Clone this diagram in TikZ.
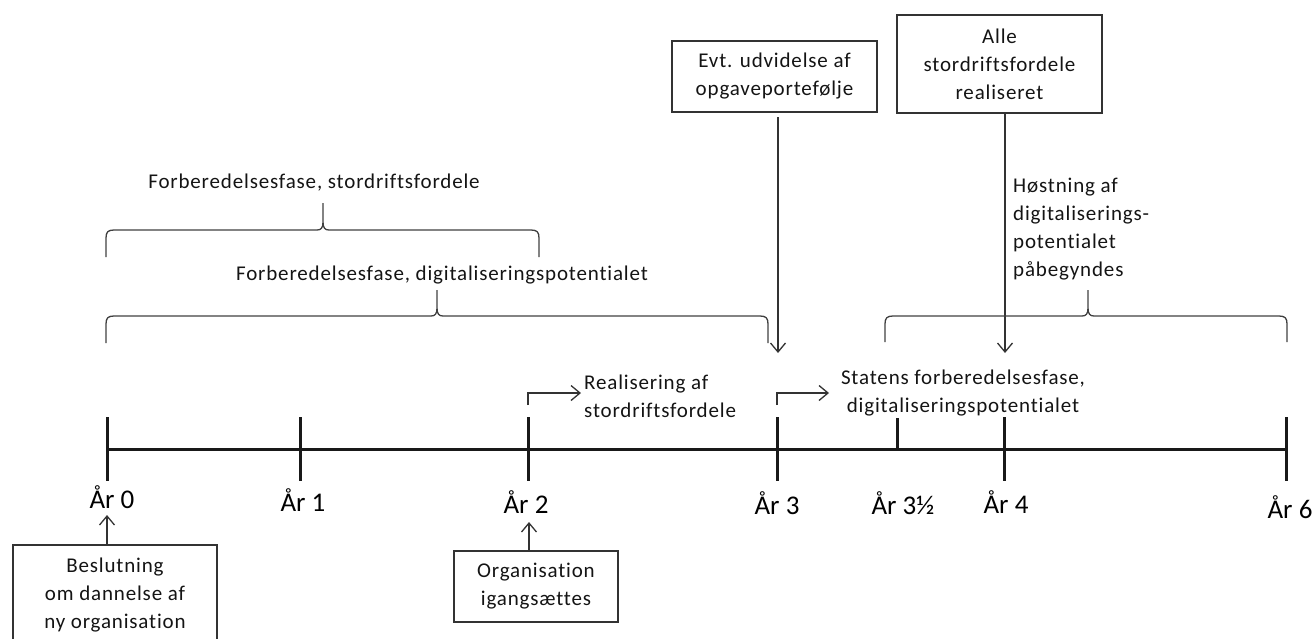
\documentclass[tikz,border=0pt]{standalone}
\usepackage{fontspec}
\setmainfont{Carlito}[LetterSpace=4.0, Ligatures=NoCommon]
\newfontfamily\yearfont{Carlito}[Ligatures=NoCommon]
\usetikzlibrary{arrows.meta}
\newcommand\curlybr[6]{%
  \draw[brace] (#1,#5) -- (#1,#4+8) .. controls (#1,#4+2) and (#1+2,#4) .. (#1+8,#4)
    -- (#3-6,#4) .. controls (#3-2,#4) and (#3,#4-2) .. (#3,#4-8) -- (#3,#6)
    -- (#3,#4-8) .. controls (#3,#4-2) and (#3+2,#4) .. (#3+6,#4)
    -- (#2-8,#4) .. controls (#2-2,#4) and (#2,#4+2) .. (#2,#4+8) -- (#2,#5);}
\begin{document}
\begin{tikzpicture}[x=1pt,y=-1pt,
  txt/.style={font=\fontsize{21}{28}\selectfont, text=black!92, inner sep=0pt},
  boxnode/.style={txt, draw=black!80, line width=1.3pt, align=center},
  yr/.style={font=\yearfont\fontsize{27}{30}\selectfont, text=black, inner sep=0pt},
  axis/.style={line width=3pt, black!90},
  arr/.style={line width=1.3pt, black!80, -{Straight Barb[length=9pt,width=15pt]}},
  brace/.style={line width=1.3pt, black!75}]
\useasboundingbox (0,0) rectangle (1314,638);

% timeline
\coordinate (t0) at (107,449);
\coordinate (t1) at (300,449);
\coordinate (t2) at (528,449);
\coordinate (t3) at (777,449);
\coordinate (t35) at (897,449);
\coordinate (t4) at (1004,449);
\coordinate (t6) at (1286,449);
\draw[axis] (t0) -- (t6);
\foreach \t in {t0,t1,t2,t3,t4,t6}{\draw[axis] ([yshift=32pt]\t) -- ([yshift=-32pt]\t);}
\draw[axis] (t35) -- ([yshift=31pt]t35);

% year labels
\node[yr] (y0) at (112,497) {År 0};
\node[yr] (y1) at (303,500) {År 1};
\node[yr] (y2) at (526,502) {År 2};
\node[yr] (y3) at (777,503) {År 3};
\node[yr] (y35) at (903,503) {År 3½};
\node[yr] (y4) at (1006,502) {År 4};
\node[yr] (y6) at (1290,507) {År 6};

% bottom boxes
\node[boxnode, minimum width=204pt, minimum height=100pt] (bes) at (115,595)
  {Beslutning\\om dannelse af\\ny organisation};
\node[boxnode, minimum width=164pt, minimum height=71pt] (org) at (536,586.5)
  {Organisation\\igangsættes};
\coordinate (a0) at (107,515);
\coordinate (a2) at (529,522);
\draw[arr] (bes.north -| a0) -- (a0);
\draw[arr] (org.north -| a2) -- (a2);

% top boxes
\node[boxnode, minimum width=205pt, minimum height=71pt] (evt) at (774.5,76.5)
  {Evt. udvidelse af\\opgaveportefølje};
\node[boxnode, minimum width=205pt, minimum height=98pt] (alle) at (999.5,64)
  {Alle\\stordriftsfordele\\realiseret};
\coordinate (e1) at (778,117);
\coordinate (e2) at (778,353);
\coordinate (l2) at (1005,353);
\draw[arr] (e1) -- (e2);
\draw[arr] (alle.south -| l2) -- (l2);

% bent arrows and phase labels
\coordinate (r0) at (528,405);
\coordinate (r1) at (581,393);
\coordinate (s0) at (777,405);
\coordinate (s1) at (829,393);
\draw[arr] (r0) |- (r1);
\draw[arr] (s0) |- (s1);
\node[txt, anchor=west, align=left] (real) at (584,396.5) {Realisering af\\stordriftsfordele};
\node[txt, align=center] (stat) at (963,393) {Statens forberedelsesfase,\\digitaliseringspotentialet};

\node[txt, anchor=west, align=left] (host) at (1013,229.5)
  {Høstning af\\digitaliserings-\\potentialet\\påbegyndes};

% braces
\curlybr{106}{539}{323}{230}{257}{203}
\curlybr{106}{768}{437}{316}{343}{290}
\curlybr{885}{1287}{1088}{316}{342}{290}
\node[txt] (fs) at (314,183) {Forberedelsesfase, stordriftsfordele};
\node[txt] (fd) at (442,275) {Forberedelsesfase, digitaliseringspotentialet};
\end{tikzpicture}
\end{document}
